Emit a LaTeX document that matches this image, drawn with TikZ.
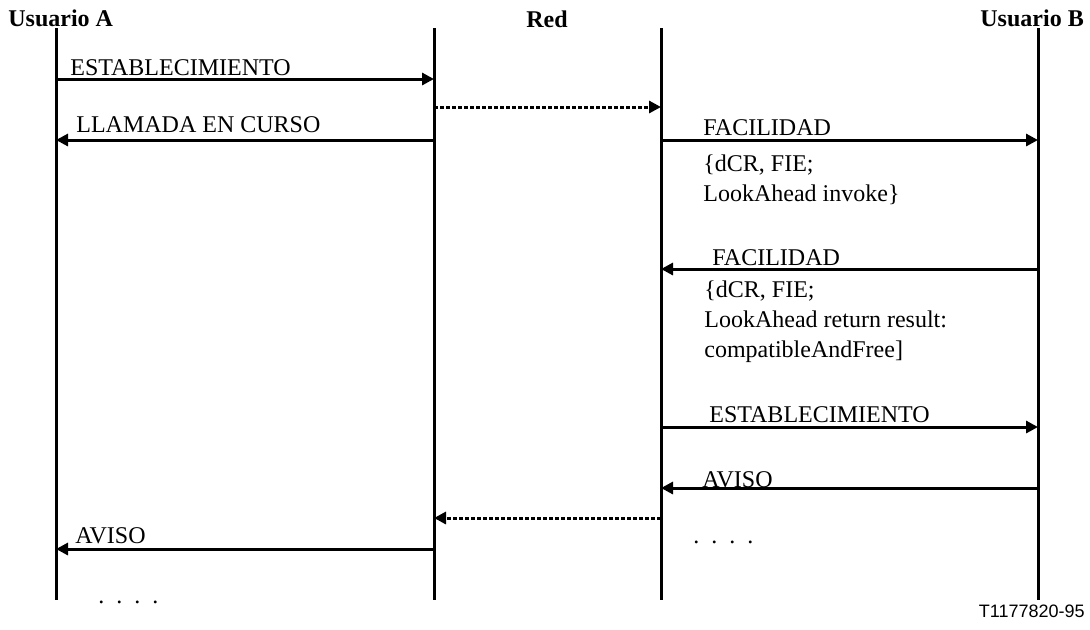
\documentclass[tikz,border=0pt]{standalone}
\usepackage{fontspec}
\setmainfont{Liberation Serif}
\newfontfamily\figsans{Liberation Sans}
\usetikzlibrary{arrows.meta}
\tikzset{
  life/.style={line width=1.5pt},
  msg/.style={line width=1.5pt, -{Triangle[length=6pt,width=6pt]}},
  relay/.style={msg, dash pattern=on 2pt off 1pt},
  lbl/.style={anchor=base west, inner sep=0pt, align=left, font=\fontsize{12}{15}\selectfont},
  party/.style={anchor=base, inner sep=0pt, font=\fontsize{12}{15}\selectfont\bfseries}
}

\begin{document}
\begin{tikzpicture}[x=0.5pt, y=-0.5pt]
  \useasboundingbox (0,0) rectangle (1090,629);

  % lifelines: user A, network (two edges), user B
  \def\xA{56} \def\xRa{434} \def\xRb{661} \def\xB{1038}
  \coordinate (Atop) at (\xA,28);   \coordinate (Abot) at (\xA,600);
  \coordinate (Ratop) at (\xRa,28); \coordinate (Rabot) at (\xRa,600);
  \coordinate (Rbtop) at (\xRb,28); \coordinate (Rbbot) at (\xRb,600);
  \coordinate (Btop) at (\xB,28);   \coordinate (Bbot) at (\xB,600);
  \draw[life] (Atop) -- (Abot);
  \draw[life] (Ratop) -- (Rabot);
  \draw[life] (Rbtop) -- (Rbbot);
  \draw[life] (Btop) -- (Bbot);

  \node[party, anchor=base west] (userA) at (8,26) {Usuario A};
  \node[party] (red) at (547,27) {Red};
  \node[party, anchor=base west] (userB) at (980,26) {Usuario B};

  % message end points
  \foreach \y/\n in {79/1, 107/2, 140/3, 269/4, 427/5, 488/6, 518/7, 549/8} {
    \coordinate (a\n) at (\xA,\y);
    \coordinate (ra\n) at (\xRa,\y);
    \coordinate (rb\n) at (\xRb,\y);
    \coordinate (b\n) at (\xB,\y);
  }

  % user A side
  \draw[msg] (a1) -- (ra1);
  \node[lbl] (setupA) at (70,75) {ESTABLECIMIENTO};
  \draw[relay] (ra2) -- (rb2);
  \draw[msg] (ra3) -- (a3);
  \node[lbl] (proceed) at (76,132) {LLAMADA EN CURSO};

  % user B side (multi-line labels sit on their last baseline)
  \draw[msg] (rb3) -- (b3);
  \node[lbl] (fac1) at (703,135) {FACILIDAD};
  \node[lbl] (inv) at (703,201) {\{dCR, FIE;\\LookAhead invoke\}};
  \draw[msg] (b4) -- (rb4);
  \node[lbl] (fac2) at (712,265) {FACILIDAD};
  \node[lbl] (res) at (704,357) {\{dCR, FIE;\\LookAhead return result:\\compatibleAndFree]};
  \draw[msg] (rb5) -- (b5);
  \node[lbl] (setupB) at (709,422) {ESTABLECIMIENTO};
  \draw[msg] (b6) -- (rb6);
  \node[lbl] (alertB) at (702,487) {AVISO};
  \node[lbl] (moreB) at (693,543) {.\ \ .\ \ .\ \ .};

  % back to user A
  \draw[relay] (rb7) -- (ra7);
  \draw[msg] (ra8) -- (a8);
  \node[lbl] (alertA) at (75,543) {AVISO};
  \node[lbl] (moreA) at (98,603) {.\ \ .\ \ .\ \ .};

  \node[anchor=base east, inner sep=0pt, font=\figsans\fontsize{9}{11}\selectfont] (tag) at (1085,617) {T1177820-95};
\end{tikzpicture}
\end{document}
